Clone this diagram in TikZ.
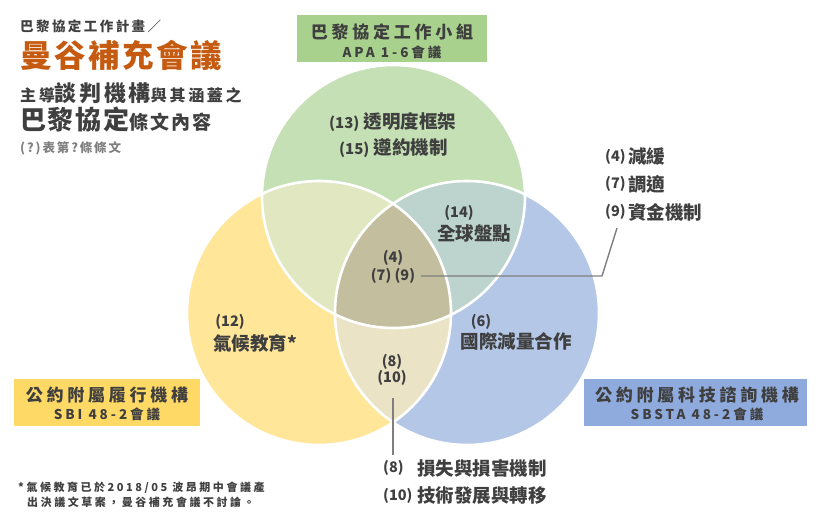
\documentclass[tikz,border=0pt]{standalone}
\usepackage{fontspec}
\setmainfont{Noto Sans CJK TC}
\newcommand\fsz[1]{\fontsize{#1}{#1}\selectfont}
\newcommand\lsp[1]{\addfontfeatures{LetterSpace=#1}}
\definecolor{txt}{HTML}{3F3F3F}
\definecolor{ttlorange}{HTML}{C55A11}
\definecolor{subgray}{HTML}{7F7F7F}
\definecolor{leadgray}{HTML}{7F7F7F}
\definecolor{cG}{HTML}{C5E0B4}
\definecolor{cY}{HTML}{FFE699}
\definecolor{cB}{HTML}{B4C7E7}
\definecolor{cGY}{HTML}{E1E8C1}
\definecolor{cGB}{HTML}{BCD4CD}
\definecolor{cYB}{HTML}{EBE3C6}
\definecolor{cGYB}{HTML}{C3BE9D}
\definecolor{boxG}{HTML}{A9D18E}
\definecolor{boxY}{HTML}{FFD966}
\definecolor{boxB}{HTML}{8FAADC}
\tikzset{
  lbl/.style={inner sep=0pt, text=txt},
  word/.style={lbl, font=\bfseries\fsz{18.5}},
  num/.style={lbl, font=\bfseries\fsz{14.5}},
  lead/.style={draw=leadgray, line width=1.4pt},
  ring/.style={draw=white, line width=2.6pt},
  tagbox/.style={draw=none, inner sep=0pt, minimum height=47pt},
  tagtop/.style={lbl, font=\bfseries\fsz{17}\lsp{22}},
  tagbot/.style={lbl, font=\bfseries\fsz{13.5}\lsp{22}},
}
\begin{document}
\begin{tikzpicture}[x=1pt,y=-1pt]
\useasboundingbox (0,0) rectangle (820,519);
% ---- Venn circles
\def\circG{(393.5,196.5) circle (131.5pt)}
\def\circY{(319,313) circle (132pt)}
\def\circB{(467,313) circle (132pt)}
\fill[cG] \circG;
\fill[cY] \circY;
\fill[cB] \circB;
\begin{scope}\clip \circG; \fill[cGY] \circY; \end{scope}
\begin{scope}\clip \circG; \fill[cGB] \circB; \end{scope}
\begin{scope}\clip \circY; \fill[cYB] \circB; \end{scope}
\begin{scope}\clip \circG; \clip \circY; \fill[cGYB] \circB; \end{scope}
\draw[ring] \circG;
\draw[ring] \circY;
\draw[ring] \circB;
% ---- label boxes
\node[tagbox, fill=boxG, minimum width=190pt] (boxgreen) at (392,39) {};
\node[tagtop] (boxgreen1) at (392,32) {巴黎協定工作小組};
\node[tagbot] (boxgreen2) at (392,52) {APA 1-6會議};
\node[tagbox, fill=boxY, minimum width=186pt] (boxyellow) at (107,402.5) {};
\node[tagtop] (boxyellow1) at (107,395) {公約附屬履行機構};
\node[tagbot] (boxyellow2) at (107,414) {SBI 48-2會議};
\node[tagbox, fill=boxB, minimum width=223pt] (boxblue) at (695.5,402.5) {};
\node[tagtop] (boxblue1) at (697,395) {公約附屬科技諮詢機構};
\node[tagbot] (boxblue2) at (697,414) {SBSTA 48-2會議};
% ---- title block
\node[lbl, anchor=base west, font=\bfseries\fsz{13.5}\lsp{18}] (t1) at (20,32) {巴黎協定工作計畫／};
\node[lbl, anchor=base west, text=ttlorange, font=\bfseries\fsz{31.5}\lsp{8}] (t2) at (20,67) {曼谷補充會議};
\node[lbl, anchor=base west, font=\bfseries] (t3) at (20,102)
  {{\fsz{16}\lsp{17}主導}{\fsz{22}\lsp{12}談判機構}{\fsz{16}\lsp{17}與其涵蓋之}};
\node[lbl, anchor=base west, font=\bfseries] (t4) at (20,129)
  {{\fsz{26}\lsp{7}巴黎協定}{\fsz{19}\lsp{11}條文內容}};
\node[lbl, anchor=base west, text=subgray, font=\bfseries\fsz{12.5}\lsp{15}] (t5) at (20,153) {(?)表第?條條文};
% ---- circle texts
\node[word, anchor=west] (g13) at (329,122) {{\fsz{15}(13)} 透明度框架};
\node[word, anchor=west] (g15) at (339,148) {{\fsz{15}(15)} 遵約機制};
\node[num] (gb14n) at (459,213) {(14)};
\node[word] (gb14) at (474,233) {全球盤點};
\node[num] (c4) at (393,258) {(4)};
\node[num] (c79) at (393,276) {(7) (9)};
\node[num] (b6n) at (481,322) {(6)};
\node[word] (b6) at (516,341) {國際減量合作};
\node[num] (y12n) at (230,322) {(12)};
\node[word] (y12) at (255,343) {氣候教育*};
\node[num] (yb8) at (392,362) {(8)};
\node[num] (yb10) at (392,378) {(10)};
% ---- right list
\node[num, anchor=west] (r4n) at (605,157) {(4)};
\node[word, anchor=west] (r4) at (628,157) {減緩};
\node[num, anchor=west] (r7n) at (605,184) {(7)};
\node[word, anchor=west] (r7) at (628,184) {調適};
\node[num, anchor=west] (r9n) at (605,212) {(9)};
\node[word, anchor=west] (r9) at (628,212) {資金機制};
% ---- bottom list
\node[num, anchor=west] (d8n) at (383,468) {(8)};
\node[word, anchor=west] (d8) at (417,468) {損失與損害機制};
\node[num, anchor=west] (d10n) at (383,496) {(10)};
\node[word, anchor=west] (d10) at (417,496) {技術發展與轉移};
% ---- connectors
\coordinate (ls) at (421,276);
\coordinate (lk) at (602,276);
\coordinate (le) at (617,228);
\draw[lead] (ls) -- (lk) -- (le);
\coordinate (vs) at (393,398);
\coordinate (ve) at (393,455);
\draw[lead] (vs) -- (ve);
% ---- footnote
\node[lbl, anchor=base west, font=\bfseries\fsz{11}\lsp{23}] (f1) at (18,491) {*氣候教育已於2018/05 波昂期中會議產};
\node[lbl, anchor=base west, font=\bfseries\fsz{11}\lsp{23}] (f2) at (27,506) {出決議文草案，曼谷補充會議不討論。};
\end{tikzpicture}
\end{document}
